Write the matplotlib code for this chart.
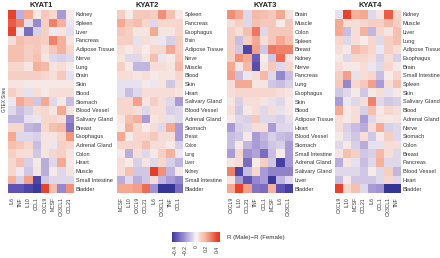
import numpy as np
import matplotlib
matplotlib.use("Agg")
import matplotlib.pyplot as plt
from matplotlib.colors import LinearSegmentedColormap, Normalize

plt.rcParams['font.family'] = ['Liberation Sans', 'DejaVu Sans']

# ---------------- data ----------------
k1_rows = ["Kidney", "Spleen", "Liver", "Pancreas", "Adipose Tissue", "Nerve", "Lung", "Brain",
           "Skin", "Blood", "Stomach", "Blood Vessel", "Salivary Gland", "Breast", "Esophagus",
           "Adrenal Gland", "Colon", "Heart", "Muscle", "Small Intestine", "Bladder"]
k1_cols = ["IL6", "TNF", "IL10", "CCL1", "CXCL9", "MCSF", "CX3CL1", "CCL21"]
k1_vals = [
    [0.40, -0.15, 0.20, 0.03, 0.12, 0.08, -0.20, 0.02],
    [0.35, 0.28, -0.05, -0.25, 0.10, 0.28, 0.18, -0.03],
    [0.40, -0.03, -0.32, -0.08, 0.10, -0.02, 0.04, -0.05],
    [0.06, 0.15, 0.12, 0.12, 0.10, 0.28, 0.18, 0.04],
    [0.14, 0.14, 0.10, 0.12, 0.06, 0.12, 0.18, 0.08],
    [0.14, 0.14, 0.10, 0.14, 0.04, -0.06, -0.08, -0.06],
    [0.08, 0.08, 0.04, 0.18, 0.16, 0.04, 0.06, 0.02],
    [0.10, 0.10, 0.10, 0.10, 0.08, 0.06, 0.12, -0.04],
    [0.04, 0.04, 0.03, 0.03, 0.03, 0.03, 0.03, 0.03],
    [0.10, 0.06, -0.04, 0.06, 0.03, 0.06, 0.06, 0.06],
    [-0.03, 0.20, 0.14, -0.10, 0.20, -0.06, 0.03, -0.12],
    [-0.06, -0.12, -0.08, 0.06, 0.08, 0.04, 0.20, 0.04],
    [-0.14, -0.14, -0.04, -0.03, 0.08, 0.08, 0.06, -0.25],
    [0.08, 0.08, -0.14, -0.16, 0.08, 0.14, 0.16, -0.30],
    [0.20, -0.06, -0.06, -0.08, 0.04, 0.04, 0.08, 0.24],
    [0.14, 0.12, 0.08, -0.12, 0.04, -0.03, 0.10, 0.08],
    [0.10, 0.06, 0.06, -0.10, 0.04, 0.08, 0.10, 0.04],
    [0.08, 0.14, -0.08, 0.03, -0.16, -0.06, 0.20, 0.03],
    [0.08, -0.02, -0.10, 0.04, -0.16, 0.03, -0.06, 0.04],
    [0.18, -0.08, 0.22, -0.42, -0.10, -0.06, -0.06, -0.06],
    [-0.38, -0.38, -0.42, -0.46, 0.40, 0.15, -0.25, 0.25],
]

k2_rows = ["Spleen", "Pancreas", "Esophagus", "Brain", "Adipose Tissue", "Nerve", "Muscle", "Blood",
           "Skin", "Heart", "Salivary Gland", "Blood Vessel", "Adrenal Gland", "Stomach", "Breast",
           "Colon", "Lung", "Liver", "Kidney", "Small Intestine", "Bladder"]
k2_cols = ["MCSF", "IL10", "CXCL9", "CCL21", "IL6", "CX3CL1", "TNF", "CCL1"]
k2_vals = [
    [0.10, 0.02, 0.12, 0.12, 0.10, 0.25, 0.14, 0.03],
    [0.20, 0.12, 0.15, 0.08, -0.06, 0.08, 0.08, 0.08],
    [0.12, 0.10, 0.04, 0.04, 0.20, 0.04, 0.04, 0.08],
    [0.10, 0.10, -0.04, 0.06, 0.04, -0.03, -0.08, 0.10],
    [0.06, 0.03, 0.06, 0.02, 0.08, 0.08, 0.20, 0.10],
    [0.04, -0.06, -0.06, 0.04, 0.14, -0.03, 0.03, 0.12],
    [0.10, 0.03, -0.14, -0.14, 0.06, 0.06, 0.04, 0.16],
    [0.06, 0.06, 0.04, 0.06, 0.03, 0.04, 0.04, 0.08],
    [-0.04, -0.04, -0.04, 0.03, -0.03, 0.04, -0.10, 0.06],
    [-0.04, -0.12, -0.06, 0.06, 0.06, 0.06, 0.06, 0.04],
    [0.08, 0.08, 0.22, 0.04, 0.10, 0.06, -0.06, -0.20],
    [0.08, 0.08, 0.06, -0.06, 0.06, 0.06, -0.08, -0.06],
    [0.04, 0.14, 0.18, -0.20, 0.04, 0.06, -0.04, -0.06],
    [0.02, 0.18, 0.08, 0.02, 0.06, -0.06, 0.20, -0.20],
    [0.20, 0.02, 0.08, 0.08, 0.12, 0.06, 0.06, -0.20],
    [0.08, 0.08, 0.08, 0.14, 0.06, 0.06, 0.03, -0.08],
    [0.03, -0.16, 0.06, -0.06, 0.03, 0.10, 0.18, -0.03],
    [0.06, 0.02, -0.08, 0.04, -0.06, 0.08, -0.08, -0.14],
    [0.06, 0.14, -0.10, -0.10, 0.42, 0.25, -0.14, 0.03],
    [-0.16, -0.06, -0.16, -0.10, 0.06, -0.14, -0.20, -0.25],
    [0.20, 0.20, 0.22, 0.32, -0.22, -0.47, -0.47, -0.32],
]
k2_small = ["Brain", "Nerve", "Breast", "Colon", "Lung", "Liver", "Kidney"]

k3_rows = ["Brain", "Muscle", "Colon", "Spleen", "Breast", "Kidney", "Nerve", "Pancreas", "Lung",
           "Esophagus", "Skin", "Blood", "Adipose Tissue", "Heart", "Blood Vessel", "Stomach",
           "Small Intestine", "Adrenal Gland", "Salivary Gland", "Liver", "Bladder"]
k3_cols = ["CXCL9", "IL10", "CCL21", "TNF", "CCL1", "MCSF", "IL6", "CX3CL1"]
k3_vals = [
    [0.25, 0.20, -0.06, 0.16, 0.14, 0.12, 0.20, 0.05],
    [0.06, 0.10, -0.06, 0.14, 0.12, 0.12, 0.02, 0.12],
    [0.10, 0.06, 0.14, 0.30, -0.06, 0.12, 0.12, 0.12],
    [0.10, -0.12, 0.10, 0.20, 0.06, 0.12, 0.20, 0.14],
    [0.10, -0.10, -0.42, 0.22, -0.10, 0.30, 0.28, 0.28],
    [0.10, 0.25, 0.20, -0.36, 0.02, -0.10, 0.32, 0.04],
    [0.20, 0.04, 0.16, -0.40, 0.04, 0.12, -0.06, 0.08],
    [0.22, -0.12, -0.03, 0.06, 0.16, -0.06, -0.25, -0.12],
    [0.06, 0.20, 0.20, 0.04, 0.04, -0.10, -0.12, -0.08],
    [0.06, 0.08, 0.08, 0.08, 0.08, 0.08, 0.06, 0.04],
    [0.04, -0.08, 0.06, 0.06, 0.04, -0.04, -0.06, 0.03],
    [0.06, -0.10, 0.03, 0.06, -0.06, 0.06, -0.04, 0.03],
    [0.03, -0.06, -0.08, 0.12, -0.06, -0.06, -0.08, -0.04],
    [-0.20, -0.08, -0.06, 0.06, 0.06, -0.20, -0.06, -0.06],
    [-0.12, -0.10, 0.03, -0.20, -0.14, -0.08, -0.12, -0.14],
    [-0.12, 0.03, -0.14, -0.20, -0.16, -0.10, -0.08, -0.20],
    [-0.20, 0.08, -0.22, -0.18, -0.32, -0.12, 0.02, -0.20],
    [0.04, 0.06, -0.32, 0.02, 0.10, -0.10, -0.44, -0.20],
    [0.28, -0.42, -0.12, 0.08, -0.20, -0.26, -0.26, -0.26],
    [0.04, -0.20, -0.38, -0.25, -0.20, -0.46, -0.14, -0.06],
    [0.20, 0.40, 0.22, -0.30, -0.32, 0.18, -0.38, -0.44],
]

k4_rows = ["Kidney", "Muscle", "Liver", "Lung", "Adipose Tissue", "Esophagus", "Brain",
           "Small Intestine", "Spleen", "Skin", "Salivary Gland", "Blood", "Adrenal Gland", "Nerve",
           "Stomach", "Colon", "Breast", "Pancreas", "Blood Vessel", "Heart", "Bladder"]
k4_cols = ["CXCL9", "IL10", "MCSF", "CCL21", "IL6", "CCL1", "CX3CL1", "TNF"]
k4_vals = [
    [-0.04, 0.40, 0.18, 0.20, -0.06, 0.04, 0.35, 0.08],
    [0.20, 0.06, 0.06, 0.08, 0.10, 0.10, 0.16, 0.10],
    [0.20, -0.12, 0.06, 0.18, -0.14, 0.08, 0.04, 0.14],
    [0.08, -0.06, 0.06, 0.02, 0.08, -0.06, 0.10, 0.14],
    [0.06, 0.03, 0.16, 0.12, 0.08, -0.03, 0.10, 0.06],
    [0.03, -0.06, 0.08, 0.08, 0.06, -0.08, 0.06, -0.08],
    [0.06, 0.03, 0.03, 0.06, -0.03, -0.06, 0.08, 0.03],
    [0.10, 0.22, -0.04, 0.06, 0.08, -0.12, 0.02, 0.08],
    [0.12, -0.25, 0.08, 0.12, 0.22, -0.20, 0.06, 0.14],
    [-0.10, -0.06, 0.03, -0.10, 0.03, 0.06, -0.04, 0.03],
    [-0.20, -0.03, -0.06, 0.06, 0.28, -0.06, -0.10, -0.08],
    [0.20, 0.03, 0.06, -0.08, 0.14, 0.03, 0.08, 0.06],
    [0.06, 0.03, 0.06, -0.20, -0.06, 0.04, 0.03, 0.04],
    [0.06, -0.08, -0.12, -0.16, 0.06, 0.20, -0.08, -0.06],
    [0.03, -0.06, -0.10, 0.06, -0.10, 0.03, 0.10, -0.06],
    [-0.06, 0.03, -0.08, -0.16, -0.04, -0.04, 0.06, 0.06],
    [0.04, 0.14, 0.10, -0.10, -0.08, 0.16, 0.06, -0.06],
    [-0.16, 0.04, -0.04, -0.12, -0.06, 0.18, -0.06, -0.06],
    [-0.06, -0.06, -0.06, -0.10, 0.02, -0.06, 0.10, -0.14],
    [-0.12, 0.03, -0.10, -0.10, -0.10, -0.06, 0.08, -0.06],
    [0.40, 0.08, 0.14, -0.06, -0.20, -0.22, -0.47, -0.47],
]

titles = ["KYAT1", "KYAT2", "KYAT3", "KYAT4"]
cbar_ticks = [-0.4, -0.2, 0, 0.2, 0.4]
cbar_labels = ["\u22120.4", "\u22120.2", "0", "0.2", "0.4"]

# ---------------- style ----------------
W, H = 440, 258
fig = plt.figure(figsize=(W / 100, H / 100), dpi=100)
fig.patch.set_facecolor("white")

vmin, vmax = -0.5, 0.5
nodes = [(-0.5, "#262c8c"), (-0.4, "#5a4db0"), (-0.2, "#aa9cd6"), (0.0, "#f7f3f4"),
         (0.2, "#f6ab95"), (0.4, "#e8432d"), (0.5, "#de2c1e")]
cmap = LinearSegmentedColormap.from_list(
    "mf", [((v - vmin) / (vmax - vmin), c) for v, c in nodes])
norm = Normalize(vmin=vmin, vmax=vmax)

panels = [(k1_rows, k1_cols, k1_vals), (k2_rows, k2_cols, k2_vals),
          (k3_rows, k3_cols, k3_vals), (k4_rows, k4_cols, k4_vals)]
lefts = [8, 117, 227, 335]
pw = 65.5
top, bottom = 10, 193
title_x = [41.5, 147, 265, 370]
txt = "#333333"

def fx(px):
    return px / W

def fy(py):
    return 1 - py / H

for i, (rows, cols, vals) in enumerate(panels):
    ax = fig.add_axes([fx(lefts[i]), fy(bottom), pw / W, (bottom - top) / H])
    arr = np.array(vals)
    ax.imshow(arr, cmap=cmap, norm=norm, aspect="auto", interpolation="nearest")
    ax.set_xticks(range(len(cols)))
    ax.set_xticklabels(cols, rotation=90, fontsize=3.6, color=txt)
    ax.set_yticks(range(len(rows)))
    ax.yaxis.tick_right()
    ax.set_yticklabels(rows, fontsize=4.1, color=txt)
    if i == 1:
        for lab in ax.get_yticklabels():
            if lab.get_text() in k2_small:
                lab.set_fontsize(3.3)
    ax.tick_params(axis="y", length=0, pad=1.6)
    ax.tick_params(axis="x", length=0, pad=3)
    for s in ax.spines.values():
        s.set_visible(False)
    fig.text(fx(title_x[i]), fy(5.5), titles[i], ha="center", va="center",
             fontsize=5.4, fontweight="bold", color="#222222")

fig.text(fx(4.5), fy(100), "GTEX Sites", rotation=90, ha="center", va="center",
         fontsize=3.4, color=txt)

# colorbar
cax = fig.add_axes([fx(172), fy(242), 48 / W, 10 / H])
grad = np.linspace(-0.46, 0.46, 200)
cax.pcolormesh(grad, [0, 1], grad[np.newaxis, :-1], cmap=cmap, norm=norm, shading="flat")
cax.set_xlim(-0.46, 0.46)
cax.set_ylim(0, 1)
cax.set_yticks([])
cax.set_xticks(cbar_ticks)
cax.set_xticklabels(cbar_labels, rotation=90, fontsize=3.6, color=txt)
cax.tick_params(axis="x", length=1.5, width=0.4, colors="#dddddd", labelcolor=txt, pad=1)
for s in cax.spines.values():
    s.set_visible(False)
fig.text(fx(227), fy(237.5), "R (Male)\u2212R (Female)", ha="left", va="center",
         fontsize=4.4, color=txt)

fig.savefig("out.png", dpi=100, facecolor="white")
